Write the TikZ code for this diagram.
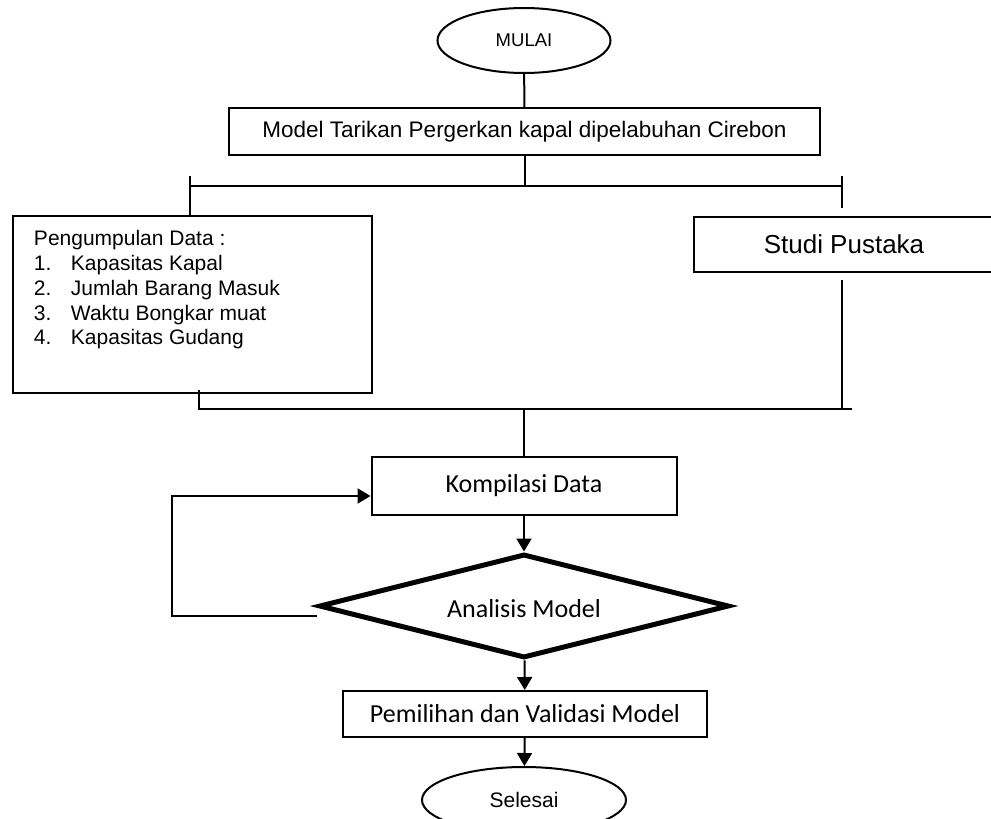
\documentclass[tikz,border=0pt]{standalone}
\usepackage{fontspec}
\setmainfont{Liberation Sans}
\newfontfamily\calibri{Carlito}
\usepackage{tikz}
\usetikzlibrary{shapes,arrows.meta,positioning}

\begin{document}
\begin{tikzpicture}[
    x=1pt, y=-1pt,
    box/.style={rectangle, draw, line width=2pt, inner sep=0pt, align=center},
    terminal/.style={ellipse, draw, line width=2pt, inner sep=0pt},
    decision/.style={diamond, draw, line width=5pt, inner sep=0pt, aspect=4},
    link/.style={line width=2pt},
    flow/.style={link, -{Triangle[length=13pt,width=15pt]}}
]
    \useasboundingbox (0,0) rectangle (991,819);

    % Start
    \node[terminal, minimum width=173pt, minimum height=65pt] (mulai) at (524,40.5)
        {\fontsize{18.5}{22}\selectfont MULAI};

    % Model
    \node[box, minimum width=591pt, minimum height=47pt] (model) at (524.5,131.5)
        {\fontsize{22.5}{26}\selectfont Model Tarikan Pergerkan kapal dipelabuhan Cirebon};

    % Data sources
    \node[box, anchor=north west, inner xsep=21pt, inner ysep=14.7pt] (pengumpulan) at (12,215) {%
        \begin{minipage}[c][147.6pt][t]{317pt}
        \fontsize{21}{24.7}\selectfont
        Pengumpulan Data :\\
        \makebox[37pt][l]{1.}Kapasitas Kapal\\
        \makebox[37pt][l]{2.}Jumlah Barang Masuk\\
        \makebox[37pt][l]{3.}Waktu Bongkar muat\\
        \makebox[37pt][l]{4.}Kapasitas Gudang
        \end{minipage}};

    \node[box, minimum width=300pt, minimum height=55pt] (studi) at (844,244.5)
        {\fontsize{26}{30}\selectfont Studi Pustaka};

    % Processing
    \node[box, minimum width=305pt, minimum height=58pt] (kompilasi) at (524,486)
        {\calibri\fontsize{26}{30}\selectfont Kompilasi Data};

    \node[decision, minimum width=410pt, minimum height=104pt] (analisis) at (524,606)
        {\calibri\fontsize{26}{30}\selectfont\raisebox{-3pt}[\height][\depth]{Analisis Model}};

    \node[box, minimum width=364pt, minimum height=46pt] (pemilihan) at (525,714)
        {\calibri\fontsize{26}{30}\selectfont Pemilihan dan Validasi Model};

    % End
    \node[terminal, minimum width=204pt, minimum height=66pt] (selesai) at (524,800)
        {\fontsize{21}{25}\selectfont Selesai};

    % Split and join
    \coordinate (splitL) at (190,186);
    \coordinate (splitR) at (842,186);
    \coordinate (joinL) at (199,409);
    \coordinate (joinR) at (852,409);

    \draw[link] (mulai) -- (model);
    \draw[link] (model.south) -- (model.south |- splitL);
    \draw[link] (splitL) -- (splitR);
    \draw[link] ([yshift=10pt]splitL) -- (splitL |- pengumpulan.north);
    \draw[link] ([yshift=10pt]splitR) -- ([yshift=-22pt]splitR);

    \draw[link] ([yshift=4pt]joinL |- pengumpulan.south) -- (joinL) -- (joinR);
    \draw[link] ([yshift=-7pt]studi.south -| splitR) -- (splitR |- joinL);
    \draw[link] (kompilasi.north |- joinL) -- (kompilasi.north);

    \draw[flow] (kompilasi) -- (analisis);
    \draw[flow] (analisis) -- (pemilihan);
    \draw[flow] (pemilihan) -- (selesai);

    % Feedback
    \draw[flow] ([yshift=-10pt]analisis.west) -- ++(-145,0) |- ([yshift=-10pt]kompilasi.west);
\end{tikzpicture}
\end{document}
